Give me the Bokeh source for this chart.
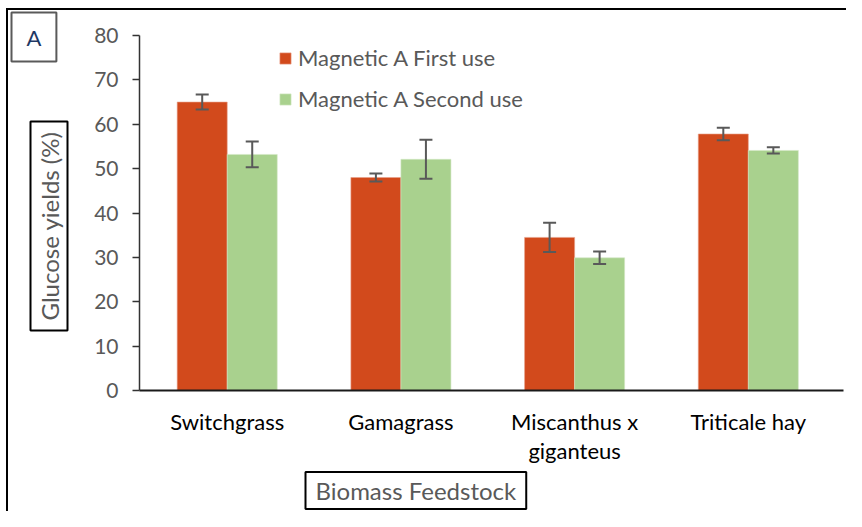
from bokeh.plotting import figure
from bokeh.models import (ColumnDataSource, Whisker, TeeHead, Legend, LegendItem,
                          Title, FixedTicker, Range1d)
from bokeh.embed import file_html
from bokeh.resources import INLINE

# ---- data ----
categories = ["Switchgrass", "Gamagrass", "Miscanthus x\ngiganteus", "Triticale hay"]
first_use = [65.0, 48.0, 34.5, 57.8]
first_err = [1.7, 0.9, 3.3, 1.4]
second_use = [53.2, 52.1, 29.9, 54.1]
second_err = [2.9, 4.4, 1.4, 0.7]
series_names = ["Magnetic A First use", "Magnetic A Second use"]
y_ticks = [0, 10, 20, 30, 40, 50, 60, 70, 80]
y_title = "Glucose yields (%)"
x_title = "Biomass Feedstock"
panel_tag = "A"

ORANGE = "#D24A1C"
GREEN = "#A9D18E"
GREY = "#595959"
FONT = "Lato"

xpos = list(range(1, len(categories) + 1))
bw = 0.288
x1 = [x - bw / 2 for x in xpos]
x2 = [x + bw / 2 for x in xpos]

src1 = ColumnDataSource(dict(x=x1, top=first_use,
                             lo=[v - e for v, e in zip(first_use, first_err)],
                             hi=[v + e for v, e in zip(first_use, first_err)]))
src2 = ColumnDataSource(dict(x=x2, top=second_use,
                             lo=[v - e for v, e in zip(second_use, second_err)],
                             hi=[v + e for v, e in zip(second_use, second_err)]))

p = figure(width=846, height=511, output_backend="svg", toolbar_location=None,
           x_range=Range1d(0.495, 4.548), y_range=Range1d(0, 80),
           min_border_left=139, min_border_right=3, min_border_top=35,
           min_border_bottom=121)
p.outline_line_color = None
p.grid.visible = False
p.background_fill_color = "white"
p.border_fill_alpha = 0
p.styles = {"background": "linear-gradient(#000,#000) 6px 8px / 2px 100% no-repeat, "
                          "linear-gradient(#000,#000) 6px 8px / 100% 2px no-repeat, white"}

r1 = p.vbar(x="x", top="top", width=bw, source=src1, fill_color=ORANGE,
            line_color="#E8A088", line_width=0.6)
r2 = p.vbar(x="x", top="top", width=bw, source=src2, fill_color=GREEN,
            line_color="#D4E8C6", line_width=0.6)

for s in (src1, src2):
    w = Whisker(base="x", upper="hi", lower="lo", source=s, level="overlay",
                line_color=GREY, line_width=2,
                upper_head=TeeHead(size=13, line_color=GREY, line_width=2),
                lower_head=TeeHead(size=13, line_color=GREY, line_width=2))
    p.add_layout(w)

# axes
p.yaxis.ticker = FixedTicker(ticks=y_ticks)
p.yaxis.major_tick_out = 7
p.yaxis.major_tick_in = 0
p.yaxis.minor_tick_line_color = None
p.yaxis.axis_line_color = "#333333"
p.yaxis.axis_line_width = 1.5
p.yaxis.major_tick_line_color = "#333333"
p.yaxis.major_tick_line_width = 1.5
p.yaxis.major_label_standoff = 14
p.yaxis.major_label_text_font = FONT
p.yaxis.major_label_text_font_size = "21px"
p.yaxis.major_label_text_color = GREY

p.xaxis.ticker = FixedTicker(ticks=xpos)
p.xaxis.major_label_overrides = {x: c for x, c in zip(xpos, categories)}
p.xaxis.major_tick_line_color = None
p.xaxis.major_tick_out = 0
p.xaxis.major_tick_in = 0
p.xaxis.minor_tick_line_color = None
p.xaxis.axis_line_color = "#1a1a1a"
p.xaxis.axis_line_width = 2
p.xaxis.major_label_standoff = 17
p.xaxis.major_label_text_font = FONT
p.xaxis.major_label_text_font_size = "22px"
p.xaxis.major_label_text_line_height = 1.1
p.xaxis.major_label_text_color = "black"

# series legend
legend = Legend(items=[LegendItem(label=series_names[0], renderers=[r1]),
                       LegendItem(label=series_names[1], renderers=[r2])],
                location=(139, 278), orientation="vertical",
                glyph_width=14, glyph_height=14, label_height=20,
                spacing=14, padding=0, margin=0, label_standoff=6,
                label_text_font=FONT, label_text_font_size="22px",
                label_text_color=GREY, border_line_color=None,
                background_fill_alpha=0)
p.add_layout(legend)

# boxed y title (left panel, outside the axis)
yt = Title(text=y_title, align="left", offset=60, vertical_align="middle", standoff=34,
           text_font=FONT, text_font_size="24px", text_color=GREY, text_font_style="normal",
           border_line_color="black", border_line_width=2,
           background_fill_color="white", padding=(10, 4))
p.add_layout(yt, "left")

# boxed x title (below panel)
xt = Title(text=x_title, align="left", offset=166, vertical_align="bottom", standoff=5,
           text_font=FONT, text_font_size="24px", text_color=GREY, text_font_style="normal",
           border_line_color="black", border_line_width=2,
           background_fill_color="white", padding=(10, 4))
p.add_layout(xt, "below")

# panel tag "A"
at = Title(text=panel_tag, align="left", offset=-128, vertical_align="bottom", standoff=-52,
           text_font=FONT, text_font_size="22px", text_color="#1F3864", text_font_style="normal",
           border_line_color="#5a5a5a", border_line_width=2,
           background_fill_color="white", padding=(15, 11))
p.add_layout(at, "above")

open("out.html", "w").write(file_html(p, INLINE))
